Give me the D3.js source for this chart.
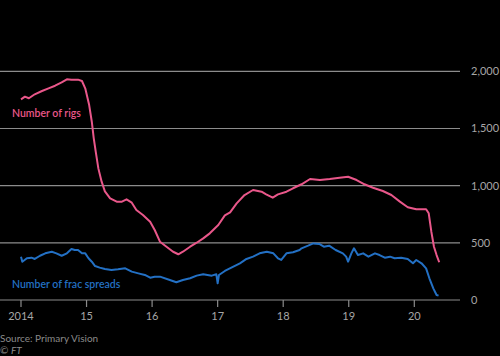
<!DOCTYPE html>
<html>
<head>
<meta charset="utf-8">
<script src="https://cdn.jsdelivr.net/npm/d3@7"></script>
<style>
  body { margin: 0; background: #000; }
  svg { display: block; font-family: Lato, "Open Sans", sans-serif; }
</style>
</head>
<body>
<div id="chart"></div>
<script>
// decimal year, weekly counts
const rigs = [
  [2014.00, 1755], [2014.06, 1778], [2014.12, 1764], [2014.21, 1799], [2014.32, 1828],
  [2014.42, 1851], [2014.52, 1874], [2014.62, 1903], [2014.70, 1930], [2014.77, 1927],
  [2014.87, 1927], [2014.93, 1915], [2014.98, 1851], [2015.04, 1705], [2015.08, 1559],
  [2015.11, 1414], [2015.14, 1297], [2015.18, 1151], [2015.23, 1035], [2015.28, 950],
  [2015.36, 889], [2015.46, 860], [2015.54, 860], [2015.61, 880], [2015.69, 851],
  [2015.76, 787], [2015.86, 743], [2015.97, 685], [2016.04, 612], [2016.12, 510],
  [2016.22, 466], [2016.32, 422], [2016.40, 400], [2016.47, 422], [2016.58, 466],
  [2016.68, 501], [2016.78, 539], [2016.88, 583], [2017.01, 656], [2017.11, 740],
  [2017.19, 767], [2017.29, 845], [2017.41, 918], [2017.54, 962], [2017.67, 947],
  [2017.74, 924], [2017.84, 895], [2017.92, 924], [2018.05, 947], [2018.15, 977],
  [2018.28, 1012], [2018.41, 1058], [2018.56, 1049], [2018.71, 1058], [2018.86, 1070],
  [2018.99, 1078], [2019.12, 1049], [2019.24, 1012], [2019.37, 982], [2019.52, 953],
  [2019.65, 918], [2019.78, 860], [2019.90, 811], [2020.03, 793], [2020.18, 793],
  [2020.22, 758], [2020.26, 597], [2020.30, 466], [2020.34, 393], [2020.38, 330]
];

const fracSpreads = [
  [2014.00, 379], [2014.02, 335], [2014.09, 365], [2014.16, 370], [2014.21, 359],
  [2014.29, 387], [2014.37, 408], [2014.47, 422], [2014.54, 408], [2014.62, 387],
  [2014.70, 408], [2014.77, 446], [2014.82, 437], [2014.87, 437], [2014.93, 408],
  [2014.98, 408], [2015.03, 365], [2015.08, 335], [2015.13, 297], [2015.20, 283],
  [2015.28, 271], [2015.38, 262], [2015.48, 268], [2015.59, 277], [2015.69, 248],
  [2015.79, 233], [2015.89, 219], [2015.97, 195], [2016.04, 204], [2016.12, 204],
  [2016.27, 175], [2016.37, 155], [2016.47, 175], [2016.58, 190], [2016.68, 213],
  [2016.78, 225], [2016.91, 213], [2016.98, 225], [2017.00, 146], [2017.02, 219],
  [2017.11, 254], [2017.24, 291], [2017.34, 321], [2017.44, 359], [2017.54, 379],
  [2017.64, 408], [2017.75, 422], [2017.85, 408], [2017.92, 365], [2017.97, 350],
  [2018.05, 408], [2018.15, 417], [2018.25, 437], [2018.28, 452], [2018.38, 475],
  [2018.46, 495], [2018.55, 490], [2018.62, 466], [2018.70, 475], [2018.80, 437],
  [2018.91, 408], [2018.96, 379], [2018.99, 335], [2019.04, 408], [2019.08, 452],
  [2019.14, 393], [2019.22, 408], [2019.30, 379], [2019.40, 408], [2019.47, 393],
  [2019.55, 370], [2019.63, 379], [2019.70, 365], [2019.80, 370], [2019.90, 359],
  [2019.98, 321], [2020.03, 350], [2020.11, 321], [2020.18, 277], [2020.23, 190],
  [2020.29, 102], [2020.34, 44], [2020.37, 38]
];

const xTicks = [2014, 2015, 2016, 2017, 2018, 2019, 2020];
const yTicks = [0, 500, 1000, 1500, 2000];

const width = 500, height = 356;
const pink = "#e9578a", blue = "#2370c4";

const svg = d3.select("#chart").append("svg")
    .attr("width", width)
    .attr("height", height);

svg.append("rect").attr("width", width).attr("height", height).attr("fill", "#000");

const x = d3.scaleLinear().domain([2014, 2020]).range([21, 414.3]);
const y = d3.scaleLinear().domain([0, 2000]).range([300, 71.3]);

// gridlines + right-hand labels
const grid = svg.append("g");
grid.selectAll("line")
  .data(yTicks)
  .join("line")
    .attr("x1", 0)
    .attr("x2", 460)
    .attr("y1", d => y(d))
    .attr("y2", d => y(d))
    .attr("stroke", "#8c8c8c")
    .attr("stroke-width", 1.2);

grid.selectAll("text")
  .data(yTicks)
  .join("text")
    .attr("x", 471)
    .attr("y", d => y(d) + 4)
    .attr("fill", "#a6a6a6")
    .attr("font-size", 11)
    .text(d => d3.format(",")(d));

// x axis ticks
const xAxis = svg.append("g");
xAxis.selectAll("line")
  .data(xTicks)
  .join("line")
    .attr("x1", d => x(d))
    .attr("x2", d => x(d))
    .attr("y1", 300)
    .attr("y2", 307)
    .attr("stroke", "#8c8c8c")
    .attr("stroke-width", 1.2);

xAxis.selectAll("text")
  .data(xTicks)
  .join("text")
    .attr("x", d => x(d))
    .attr("y", 320)
    .attr("text-anchor", "middle")
    .attr("fill", "#a6a6a6")
    .attr("font-size", 11)
    .text(d => d === 2014 ? "2014" : String(d).slice(2));

const line = d3.line()
    .x(d => x(d[0]))
    .y(d => y(d[1]))
    .curve(d3.curveLinear);

svg.append("path")
    .datum(rigs)
    .attr("d", line)
    .attr("fill", "none")
    .attr("stroke", pink)
    .attr("stroke-width", 2)
    .attr("stroke-linejoin", "round");

svg.append("path")
    .datum(fracSpreads)
    .attr("d", line)
    .attr("fill", "none")
    .attr("stroke", blue)
    .attr("stroke-width", 2)
    .attr("stroke-linejoin", "round");

// series labels
svg.append("text")
    .attr("x", 12)
    .attr("y", 117)
    .attr("fill", pink)
    .attr("font-size", 10.5)
    .attr("font-weight", 600)
    .text("Number of rigs");

svg.append("text")
    .attr("x", 12)
    .attr("y", 288)
    .attr("fill", blue)
    .attr("font-size", 10.5)
    .attr("font-weight", 600)
    .text("Number of frac spreads");

// source
svg.append("text")
    .attr("x", 0)
    .attr("y", 342)
    .attr("fill", "#8a8a8a")
    .attr("font-size", 10)
    .text("Source: Primary Vision");

const ft = svg.append("text")
    .attr("x", 0)
    .attr("y", 354)
    .attr("fill", "#8a8a8a")
    .attr("font-size", 10);
ft.append("tspan").text("© ");
ft.append("tspan").attr("font-style", "italic").text("FT");
</script>
</body>
</html>
